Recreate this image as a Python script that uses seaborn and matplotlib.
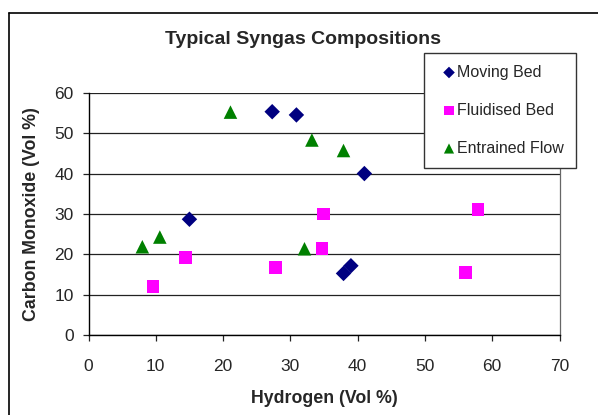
import matplotlib
matplotlib.use("Agg")
import matplotlib.pyplot as plt
from matplotlib.lines import Line2D
import seaborn as sns
import pandas as pd

# Syngas composition data (Vol %)
moving_h2 = [15.0, 27.3, 30.9, 41.0, 37.9, 39.0]
moving_co = [28.7, 55.3, 54.5, 40.0, 15.3, 17.2]

fluid_h2 = [9.6, 14.4, 27.8, 34.9, 34.7, 57.9, 56.0]
fluid_co = [12.0, 19.3, 16.8, 30.0, 21.4, 31.2, 15.6]

entrained_h2 = [8.0, 10.6, 21.1, 33.2, 37.9, 32.1]
entrained_co = [21.9, 24.3, 55.2, 48.3, 45.7, 21.4]

series_names = ["Moving Bed", "Fluidised Bed", "Entrained Flow"]
x_ticks = [0, 10, 20, 30, 40, 50, 60, 70]
y_ticks = [0, 10, 20, 30, 40, 50, 60]

frames = []
for name, xs, ys in zip(series_names,
                        [moving_h2, fluid_h2, entrained_h2],
                        [moving_co, fluid_co, entrained_co]):
    frames.append(pd.DataFrame({"Hydrogen": xs, "CO": ys, "Type": name}))
df = pd.concat(frames, ignore_index=True)

sns.set_style("white")
plt.rcParams["font.family"] = ["Liberation Sans", "DejaVu Sans"]

fig = plt.figure(figsize=(5.98, 4.15), dpi=100)
ax = fig.add_axes([88.5 / 598, 1 - 335.3 / 415, (559.5 - 88.5) / 598, (335.3 - 92.7) / 415])

styles = {
    "Moving Bed": dict(marker="D", color="#000080", s=62),
    "Fluidised Bed": dict(marker="s", color="#FF00FF", s=85),
    "Entrained Flow": dict(marker="^", color="#008000", s=95),
}
for name in series_names:
    sub = df[df["Type"] == name]
    st = styles[name]
    sns.scatterplot(data=sub, x="Hydrogen", y="CO", ax=ax, marker=st["marker"],
                    color=st["color"], s=st["s"], edgecolor="none", linewidth=0,
                    label=name, zorder=3, clip_on=False)

ax.set_xlim(0, 70)
ax.set_ylim(0, 60)
ax.set_xticks(x_ticks)
ax.set_yticks(y_ticks)
ax.tick_params(axis="both", which="major", labelsize=12.5, length=4.3, width=0.9,
               direction="out", color="#222222", bottom=True, left=True)
ax.tick_params(axis="y", pad=6.5)
ax.tick_params(axis="x", pad=12.5)
ax.yaxis.grid(True, color="#222222", linewidth=0.9)
ax.xaxis.grid(False)
ax.set_axisbelow(True)
for side in ["left", "bottom"]:
    ax.spines[side].set_color("black")
    ax.spines[side].set_linewidth(1.0)
ax.spines["right"].set_color("#666666")
ax.spines["right"].set_linewidth(0.9)
ax.spines["top"].set_visible(False)

ax.set_xlabel("Hydrogen (Vol %)", fontsize=12.8, fontweight="bold", labelpad=12)
ax.set_ylabel("Carbon Monoxide (Vol %)", fontsize=12.8, fontweight="bold", labelpad=10)

fig.text(303 / 598, 1 - 40 / 415, "Typical Syngas Compositions", ha="center",
         va="center", fontsize=14, fontweight="bold")

leg = ax.legend(loc="upper left", bbox_to_anchor=(424 / 598, 1 - 52.7 / 415),
                bbox_transform=fig.transFigure, frameon=True, fancybox=False,
                fontsize=11.5, handletextpad=-0.3, handlelength=1.63,
                labelspacing=1.44, borderpad=0.75, borderaxespad=0,
                markerscale=0.75, framealpha=1.0)
leg.get_frame().set_edgecolor("#333333")
leg.get_frame().set_linewidth(1.0)
leg.get_frame().set_facecolor("white")
leg.set_zorder(5)

# Chart area border (left and top edges)
fig.add_artist(Line2D([9 / 598, 9 / 598], [0, 1 - 13 / 415], transform=fig.transFigure,
                      color="black", linewidth=1.2))
fig.add_artist(Line2D([9 / 598, 1], [1 - 13 / 415, 1 - 13 / 415], transform=fig.transFigure,
                      color="black", linewidth=1.2))

fig.savefig("out.png", dpi=100)
